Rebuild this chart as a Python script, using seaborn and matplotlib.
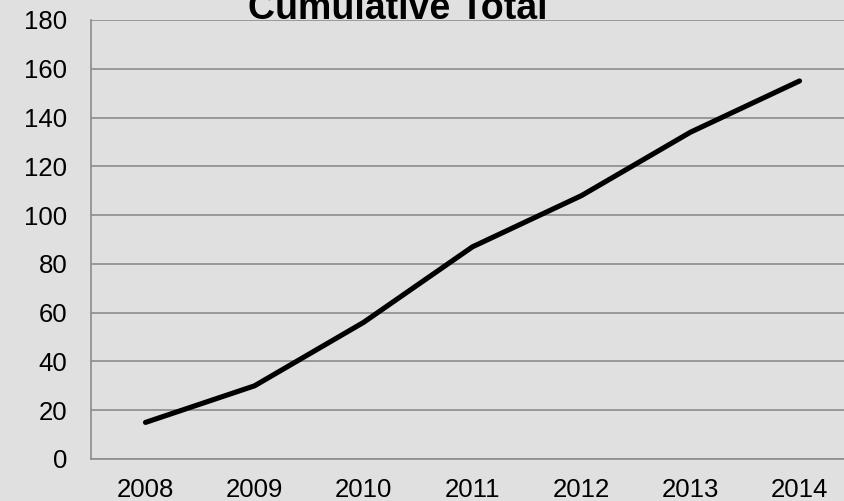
import pandas as pd
import matplotlib.pyplot as plt
import seaborn as sns
from matplotlib.ticker import FixedLocator

# --- data ---
years = ['2008', '2009', '2010', '2011', '2012', '2013', '2014']
totals = [15, 30, 56, 87, 108, 134, 155]

BG = '#e0e0e0'
GRID = '#8c8c8c'

sns.set_style('white')
plt.rcParams['font.family'] = ['Liberation Sans', 'DejaVu Sans']

df = pd.DataFrame({'year': years, 'total': totals})

fig = plt.figure(figsize=(8.45, 5.01), dpi=100, facecolor=BG)
# right edge runs past the figure, as in the reference
ax = fig.add_axes([91 / 845, 42 / 501, 763 / 845, 439 / 501])
ax.set_facecolor(BG)

sns.lineplot(data=df, x='year', y='total', ax=ax, color='black', linewidth=3.7,
             solid_capstyle='round', solid_joinstyle='round', sort=False)

ax.set_xlim(-0.5, len(years) - 0.5)
ax.set_ylim(0, 180)
ax.set_yticks(range(0, 181, 20))
ax.yaxis.grid(True, color=GRID, linewidth=1.2)
ax.set_axisbelow(True)
ax.set_xlabel('')
ax.set_ylabel('')

for side in ['top', 'right']:
    ax.spines[side].set_visible(False)
for side in ['left', 'bottom']:
    ax.spines[side].set_color(GRID)
    ax.spines[side].set_linewidth(1.2)

ax.tick_params(axis='y', length=6, width=1.2, color=GRID, pad=11, labelsize=18.5,
               labelcolor='black')
ax.tick_params(axis='x', which='major', length=0, pad=14, labelsize=18.5,
               labelcolor='black')
ax.xaxis.set_minor_locator(FixedLocator([i - 0.5 for i in range(len(years) + 1)]))
ax.tick_params(axis='x', which='minor', length=5, width=1.2, color=GRID, direction='out')

# title sits partly above the top edge, as in the reference
fig.text(398 / 845, 1 - 19 / 501, 'Cumulative Total', ha='center', va='baseline',
         fontsize=27, fontweight='bold', color='black')

fig.savefig('out.png', dpi=100, facecolor=BG)
